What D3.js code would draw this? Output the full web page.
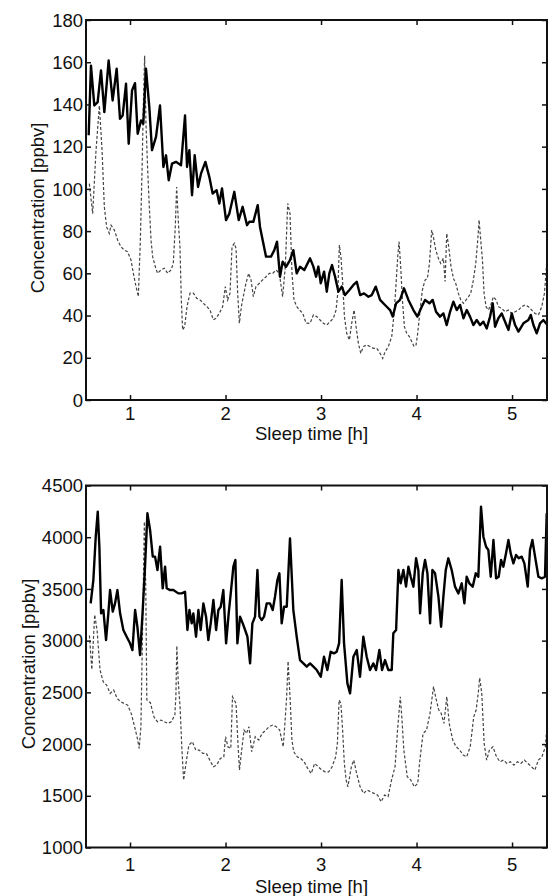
<!DOCTYPE html>
<html><head><meta charset="utf-8">
<script src="https://cdn.jsdelivr.net/npm/d3@7"></script>
<style>
html,body{margin:0;padding:0;background:#fff;}
svg{display:block;}
text{font-family:"Liberation Sans",Arial,Helvetica,sans-serif;fill:#111;}
</style></head>
<body><svg id="c" width="548" height="896"></svg>
<script>
// ---- data (hours, value) ----
const xTicks = [1, 2, 3, 4, 5];
const topYTicks = [0, 20, 40, 60, 80, 100, 120, 140, 160, 180];
const bottomYTicks = [1000, 1500, 2000, 2500, 3000, 3500, 4000, 4500];
const xLabel = "Sleep time [h]";
const yLabel = "Concentration [ppbv]";

const topSolid = [[0.567,125.4],[0.591,158.4],[0.626,139.5],[0.661,141.1],[0.696,156.1],[0.731,136.4],[0.776,160.8],[0.818,141.9],[0.860,156.9],[0.895,133.2],[0.923,134.8],[0.958,149.8],[0.986,121.4],[1.021,146.6],[1.052,150.1],[1.080,126.1],[1.115,132.4],[1.139,130.9],[1.167,156.9],[1.202,138.7],[1.230,118.3],[1.272,124.6],[1.314,139.5],[1.349,110.4],[1.377,115.9],[1.405,104.1],[1.440,112.0],[1.481,112.8],[1.534,111.2],[1.576,134.8],[1.597,110.4],[1.621,118.3],[1.649,97.0],[1.677,115.9],[1.712,100.9],[1.743,107.2],[1.789,112.8],[1.830,105.7],[1.865,97.8],[1.907,99.4],[1.935,93.1],[1.963,100.2],[2.005,85.2],[2.040,88.3],[2.092,98.6],[2.138,85.2],[2.179,91.5],[2.225,82.8],[2.249,84.4],[2.291,84.4],[2.337,92.3],[2.361,82.0],[2.389,75.7],[2.424,67.9],[2.476,67.9],[2.511,71.0],[2.539,75.0],[2.570,58.4],[2.598,65.5],[2.633,63.1],[2.675,66.3],[2.710,71.0],[2.745,60.0],[2.780,63.1],[2.825,61.6],[2.885,67.1],[2.920,63.2],[2.948,58.4],[2.972,63.2],[2.997,55.3],[3.032,60.8],[3.060,51.3],[3.087,60.0],[3.115,63.9],[3.147,58.4],[3.182,51.3],[3.217,53.7],[3.251,49.7],[3.297,52.1],[3.339,54.5],[3.374,56.0],[3.409,49.7],[3.450,50.5],[3.496,48.9],[3.531,49.7],[3.573,53.7],[3.618,47.4],[3.670,45.0],[3.723,42.6],[3.751,39.5],[3.786,45.8],[3.827,47.4],[3.869,52.9],[3.915,47.4],[3.967,42.6],[4.009,39.5],[4.054,44.2],[4.089,47.4],[4.135,45.8],[4.169,47.4],[4.204,41.8],[4.246,39.5],[4.281,41.0],[4.316,35.5],[4.351,41.8],[4.386,46.6],[4.421,42.6],[4.456,45.0],[4.491,38.7],[4.526,42.6],[4.560,39.5],[4.595,35.5],[4.630,37.9],[4.665,35.5],[4.700,37.1],[4.735,33.9],[4.770,39.5],[4.798,45.8],[4.822,34.7],[4.857,38.7],[4.892,41.0],[4.927,37.1],[4.962,33.2],[4.997,41.0],[5.032,35.5],[5.067,32.4],[5.119,36.3],[5.171,37.9],[5.196,40.3],[5.224,35.5],[5.258,31.6],[5.293,36.3],[5.328,37.9],[5.370,35.5]];

const topDashed = [[0.574,102.5],[0.609,88.3],[0.644,118.3],[0.679,139.5],[0.707,118.3],[0.731,91.5],[0.755,82.0],[0.783,78.9],[0.801,82.8],[0.836,80.5],[0.871,75.7],[0.905,72.6],[0.940,71.0],[0.975,70.2],[1.010,66.3],[1.035,60.0],[1.063,53.7],[1.087,49.0],[1.108,75.7],[1.125,107.2],[1.139,138.7],[1.153,163.1],[1.167,130.9],[1.185,108.8],[1.202,91.5],[1.220,75.7],[1.237,67.9],[1.265,63.1],[1.289,60.0],[1.324,61.6],[1.359,62.4],[1.394,60.0],[1.429,61.6],[1.453,64.7],[1.474,82.0],[1.488,100.9],[1.509,82.0],[1.523,72.6],[1.537,47.4],[1.551,33.2],[1.572,34.8],[1.597,44.3],[1.628,50.6],[1.663,50.6],[1.698,48.2],[1.733,47.4],[1.768,45.8],[1.803,44.3],[1.837,42.7],[1.872,38.0],[1.900,38.7],[1.935,41.1],[1.970,44.3],[1.998,53.7],[2.022,47.4],[2.047,50.6],[2.068,72.6],[2.092,74.2],[2.110,71.8],[2.127,50.6],[2.145,36.4],[2.166,44.3],[2.186,49.0],[2.214,55.3],[2.242,60.0],[2.267,56.9],[2.291,49.0],[2.319,53.7],[2.354,55.3],[2.389,56.9],[2.424,58.4],[2.459,60.0],[2.494,60.0],[2.529,61.6],[2.563,60.0],[2.598,49.0],[2.626,63.1],[2.651,93.1],[2.675,88.3],[2.696,60.0],[2.717,47.4],[2.745,44.3],[2.773,42.7],[2.808,41.1],[2.843,36.4],[2.885,36.3],[2.920,40.3],[2.955,39.5],[2.990,37.9],[3.025,36.3],[3.060,35.5],[3.094,37.1],[3.129,38.7],[3.157,42.6],[3.175,50.5],[3.192,73.4],[3.210,67.1],[3.227,55.3],[3.245,39.5],[3.269,31.6],[3.297,28.4],[3.321,36.3],[3.346,42.6],[3.367,34.7],[3.391,26.8],[3.416,22.1],[3.443,25.3],[3.478,26.1],[3.513,25.3],[3.548,24.5],[3.583,24.5],[3.618,22.1],[3.646,19.7],[3.670,22.8],[3.705,25.3],[3.740,30.0],[3.765,41.0],[3.786,55.3],[3.803,67.9],[3.817,75.0],[3.834,63.2],[3.852,47.4],[3.873,34.7],[3.897,31.6],[3.925,30.0],[3.950,27.6],[3.974,25.3],[3.995,26.1],[4.012,31.6],[4.037,42.6],[4.061,52.1],[4.089,56.8],[4.114,57.6],[4.135,64.7],[4.159,80.5],[4.176,77.4],[4.201,71.1],[4.229,67.1],[4.253,64.7],[4.281,67.1],[4.299,56.1],[4.316,78.9],[4.337,72.6],[4.361,63.2],[4.386,57.6],[4.410,55.3],[4.438,50.5],[4.463,47.4],[4.491,45.8],[4.519,47.4],[4.543,48.9],[4.567,50.5],[4.595,56.8],[4.620,64.7],[4.641,75.8],[4.655,85.3],[4.672,75.8],[4.690,66.3],[4.707,50.5],[4.728,44.2],[4.752,42.6],[4.777,45.0],[4.805,48.9],[4.833,47.4],[4.857,44.2],[4.892,43.4],[4.927,41.8],[4.962,42.6],[4.997,41.0],[5.032,41.8],[5.067,42.6],[5.101,44.2],[5.136,45.0],[5.171,44.2],[5.206,42.6],[5.241,41.0],[5.276,40.3],[5.311,44.2],[5.339,50.5],[5.356,60.0],[5.374,74.2]];

const bottomSolid = [[0.588,3360],[0.616,3586],[0.641,4005],[0.662,4247],[0.679,3908],[0.697,3264],[0.721,3296],[0.749,3006],[0.773,3264],[0.791,3489],[0.819,3280],[0.843,3360],[0.868,3489],[0.896,3264],[0.930,3103],[0.965,3038],[1.000,2974],[1.025,2909],[1.053,3296],[1.077,3135],[1.105,2861],[1.133,3296],[1.157,3715],[1.182,4231],[1.210,4070],[1.238,3812],[1.262,3812],[1.287,3683],[1.315,3908],[1.342,3506],[1.367,3715],[1.384,3506],[1.419,3489],[1.454,3489],[1.506,3457],[1.541,3457],[1.576,3473],[1.601,3103],[1.622,3296],[1.646,3167],[1.663,3264],[1.691,3038],[1.716,3296],[1.740,3103],[1.768,3360],[1.796,3232],[1.820,3006],[1.845,3167],[1.873,3393],[1.901,3103],[1.925,3296],[1.950,3328],[1.977,3489],[2.006,2974],[2.033,3264],[2.058,3489],[2.082,3715],[2.103,3780],[2.124,2974],[2.152,3232],[2.180,3167],[2.205,3103],[2.229,3038],[2.257,2780],[2.281,3167],[2.309,3232],[2.334,3683],[2.355,3232],[2.379,3199],[2.403,3232],[2.431,3360],[2.466,3360],[2.494,3296],[2.518,3425],[2.543,3586],[2.564,3651],[2.588,3167],[2.613,3328],[2.641,3328],[2.675,3989],[2.710,3296],[2.745,3038],[2.780,2812],[2.815,2780],[2.850,2748],[2.885,2780],[2.920,2748],[2.955,2716],[2.997,2651],[3.031,2845],[3.066,2716],[3.101,2893],[3.136,2877],[3.164,2893],[3.189,2974],[3.216,3586],[3.241,2974],[3.276,2587],[3.304,2490],[3.339,2845],[3.374,2909],[3.408,2651],[3.443,3038],[3.478,2845],[3.513,2716],[3.548,2780],[3.576,2716],[3.611,2909],[3.639,2716],[3.670,2812],[3.705,2716],[3.740,2716],[3.757,3071],[3.786,3103],[3.810,3683],[3.834,3554],[3.862,3683],[3.890,3522],[3.915,3715],[3.939,3618],[3.967,3522],[3.995,3796],[4.019,3683],[4.037,3264],[4.065,3651],[4.089,3780],[4.114,3651],[4.142,3167],[4.166,3683],[4.194,3651],[4.229,3425],[4.257,3135],[4.281,3425],[4.306,3683],[4.333,3796],[4.368,3683],[4.403,3522],[4.438,3457],[4.473,3554],[4.501,3360],[4.525,3618],[4.553,3554],[4.588,3522],[4.620,3651],[4.647,3618],[4.675,4296],[4.700,4005],[4.728,3908],[4.752,3876],[4.777,3618],[4.805,3973],[4.833,3602],[4.860,3618],[4.885,3780],[4.909,3715],[4.937,3844],[4.962,3973],[4.986,3844],[5.014,3747],[5.042,3828],[5.070,3796],[5.101,3812],[5.129,3747],[5.164,3522],[5.188,3876],[5.213,3973],[5.241,3812],[5.276,3618],[5.311,3602],[5.345,3618],[5.363,4231]];

const bottomDashed = [[0.575,3050],[0.600,2720],[0.630,3250],[0.655,3100],[0.686,2716],[0.720,2600],[0.755,2571],[0.792,2490],[0.829,2522],[0.865,2442],[0.902,2409],[0.938,2393],[0.975,2377],[1.012,2297],[1.048,2168],[1.077,2055],[1.096,1958],[1.114,2168],[1.135,3300],[1.150,4150],[1.165,3500],[1.176,2426],[1.213,2400],[1.250,2264],[1.286,2216],[1.323,2232],[1.359,2216],[1.396,2200],[1.432,2216],[1.469,2281],[1.480,2458],[1.490,2950],[1.505,2600],[1.524,2361],[1.542,1974],[1.561,1652],[1.586,1813],[1.616,1990],[1.652,2023],[1.689,1942],[1.725,1942],[1.762,1910],[1.799,1910],[1.835,1845],[1.872,1781],[1.908,1797],[1.945,1861],[1.982,1877],[2.000,2071],[2.025,1974],[2.055,1958],[2.073,2458],[2.091,2426],[2.110,2393],[2.128,2039],[2.146,1749],[2.165,1910],[2.194,2135],[2.219,2103],[2.245,2168],[2.274,1926],[2.311,2071],[2.348,2039],[2.384,2103],[2.421,2135],[2.457,2168],[2.494,2184],[2.531,2168],[2.567,2135],[2.604,1974],[2.622,2200],[2.640,2458],[2.655,2800],[2.677,2426],[2.695,2039],[2.714,1926],[2.750,1877],[2.787,1861],[2.823,1829],[2.860,1765],[2.897,1716],[2.933,1813],[2.970,1781],[3.007,1749],[3.043,1732],[3.080,1732],[3.116,1781],[3.153,1877],[3.171,2006],[3.189,2426],[3.208,2393],[3.226,2135],[3.244,1813],[3.263,1652],[3.281,1587],[3.299,1684],[3.318,1781],[3.343,1845],[3.373,1716],[3.409,1587],[3.446,1523],[3.482,1555],[3.519,1539],[3.555,1523],[3.592,1507],[3.629,1442],[3.665,1507],[3.702,1491],[3.738,1652],[3.775,1781],[3.801,2135],[3.830,2458],[3.848,2232],[3.867,1942],[3.903,1684],[3.940,1652],[3.977,1587],[4.013,1620],[4.031,1813],[4.068,2103],[4.105,2135],[4.141,2297],[4.178,2555],[4.207,2426],[4.233,2329],[4.258,2297],[4.287,2200],[4.317,2458],[4.342,2200],[4.379,2039],[4.415,1974],[4.452,1942],[4.489,1894],[4.525,1877],[4.562,1974],[4.599,2264],[4.624,2329],[4.646,2490],[4.661,2640],[4.683,2490],[4.708,2006],[4.734,1845],[4.763,1942],[4.800,1974],[4.837,1877],[4.873,1829],[4.910,1845],[4.947,1813],[4.983,1829],[5.020,1797],[5.056,1829],[5.093,1813],[5.129,1845],[5.166,1813],[5.203,1781],[5.239,1749],[5.276,1845],[5.313,1877],[5.349,1974],[5.368,2200]];

const xDomain = [0.539, 5.366];

// ---- drawing ----
const svg = d3.select("#c");
const FS = 18.5;

function panel(cfg) {
  const {left, right, top, bottom, yDomain, yTicks, solid, dashed, id, tickBase, labelBase, yLabelX, yLabelY} = cfg;
  const x = d3.scaleLinear().domain(xDomain).range([left, right]);
  const y = d3.scaleLinear().domain(yDomain).range([bottom, top]);
  const g = svg.append("g");

  g.append("clipPath").attr("id", id).append("rect")
    .attr("x", left).attr("y", top).attr("width", right - left).attr("height", bottom - top);

  const line = d3.line().x(d => x(d[0])).y(d => y(d[1]));
  const plot = g.append("g").attr("clip-path", `url(#${id})`);
  plot.append("path").datum(dashed).attr("d", line)
    .attr("fill", "none").attr("stroke", "#444").attr("stroke-width", 1.2)
    .attr("stroke-dasharray", "3,2");
  plot.append("path").datum(solid).attr("d", line)
    .attr("fill", "none").attr("stroke", "#000").attr("stroke-width", 2.4)
    .attr("stroke-linejoin", "round");

  const ax = (gen, tr) => {
    const a = g.append("g").attr("transform", tr).call(gen);
    a.select(".domain").remove();
    a.selectAll("text").remove();
    a.selectAll("line").attr("stroke", "#111").attr("stroke-width", 1.5);
    return a;
  };
  ax(d3.axisBottom(x).tickValues(xTicks).tickSize(-5), `translate(0,${bottom})`);
  ax(d3.axisTop(x).tickValues(xTicks).tickSize(-5), `translate(0,${top})`);
  ax(d3.axisLeft(y).tickValues(yTicks).tickSize(-5), `translate(${left},0)`);
  ax(d3.axisRight(y).tickValues(yTicks).tickSize(-5), `translate(${right},0)`);

  g.append("rect").attr("x", left).attr("y", top).attr("width", right - left).attr("height", bottom - top)
    .attr("fill", "none").attr("stroke", "#111").attr("stroke-width", 2);

  g.selectAll(".xt").data(xTicks).enter().append("text")
    .attr("x", d => x(d)).attr("y", tickBase).attr("text-anchor", "middle")
    .attr("font-size", FS).text(d => d);
  g.selectAll(".yt").data(yTicks).enter().append("text")
    .attr("x", left - 3).attr("y", d => y(d)).attr("dy", "0.36em").attr("text-anchor", "end")
    .attr("font-size", FS).text(d => d);
  g.append("text").attr("x", (left + right) / 2 - 5).attr("y", labelBase)
    .attr("text-anchor", "middle").attr("font-size", FS).text(xLabel);
  g.append("text").attr("transform", `translate(${yLabelX},${yLabelY}) rotate(-90)`)
    .attr("text-anchor", "middle").attr("font-size", FS).text(yLabel);
}

panel({id: "cp1", left: 86, right: 547, top: 20, bottom: 400, yDomain: [0, 180], yTicks: topYTicks,
  solid: topSolid, dashed: topDashed, tickBase: 419.5, labelBase: 440, yLabelX: 44, yLabelY: 208});
panel({id: "cp2", left: 86, right: 547, top: 485.5, bottom: 847.5, yDomain: [1000, 4500], yTicks: bottomYTicks,
  solid: bottomSolid, dashed: bottomDashed, tickBase: 871, labelBase: 893, yLabelX: 35, yLabelY: 664});
</script></body></html>
